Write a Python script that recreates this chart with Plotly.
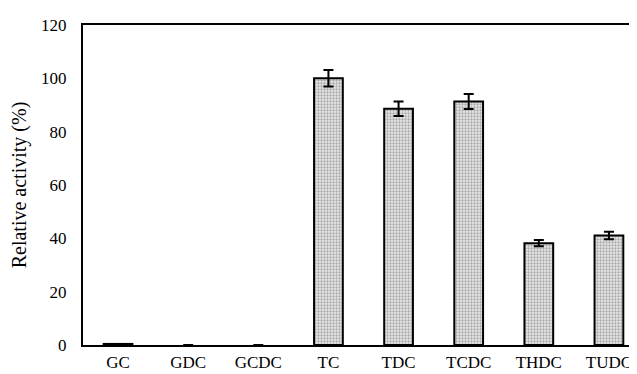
import plotly.graph_objects as go

categories = ["GC", "GDC", "GCDC", "TC", "TDC", "TCDC", "THDC", "TUDC"]
activity = [0.4, 0, 0, 100, 88.6, 91.3, 38.2, 41.1]
errors = [None, None, None, 3.1, 2.7, 2.8, 1.2, 1.4]
y_ticks = [0, 20, 40, 60, 80, 100, 120]

outline = [2 if v > 0 else 0 for v in activity]

fig = go.Figure()
fig.add_trace(go.Bar(
    x=categories, y=activity,
    width=0.41,
    marker=dict(
        color="#e4e4e4",
        line=dict(color="black", width=outline),
        pattern=dict(shape=".", size=3, solidity=0.45, fgcolor="#6a6a6a", bgcolor="#e8e8e8"),
    ),
    error_y=dict(type="data", array=errors, visible=True, color="black", thickness=2, width=5),
))

fig.update_layout(
    width=637, height=374,
    margin=dict(l=75, r=1, t=17, b=37),
    plot_bgcolor="white", paper_bgcolor="white",
    font=dict(family="Liberation Serif", size=17, color="black"),
    showlegend=False,
    xaxis=dict(showline=True, linecolor="black", linewidth=2, mirror=True,
               ticks="", showgrid=False, tickfont=dict(size=17), ticklabelstandoff=1),
    yaxis=dict(range=[0, 120], tickvals=y_ticks, showline=True, linecolor="black", linewidth=2,
               ticks="", showgrid=False, zeroline=False, tickfont=dict(size=17),
               ticklabelstandoff=11,
               title=dict(text="Relative activity (%)", font=dict(size=20), standoff=12)),
    shapes=[dict(type="line", xref="paper", yref="paper", x0=1, x1=1, y0=0, y1=1,
                 line=dict(color="#cccccc", width=1))],
)

fig.write_html("out.html")
